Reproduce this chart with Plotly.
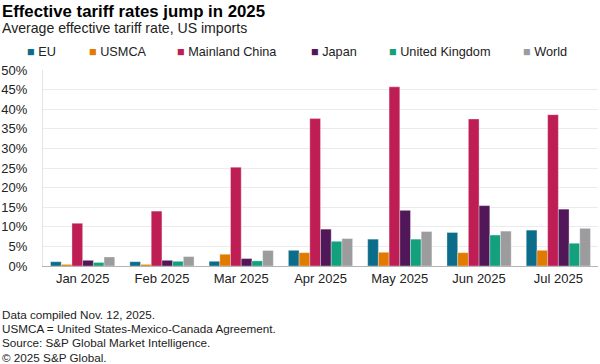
import plotly.graph_objects as go

months = ["Jan 2025", "Feb 2025", "Mar 2025", "Apr 2025", "May 2025", "Jun 2025", "Jul 2025"]
series_names = ["EU", "USMCA", "Mainland China", "Japan", "United Kingdom", "World"]
eu = [1.1, 1.1, 1.2, 4.0, 6.85, 8.55, 9.15]
usmca = [0.4, 0.4, 3.0, 3.4, 3.5, 3.4, 4.0]
china = [10.9, 14.0, 25.2, 37.6, 45.7, 37.5, 38.6]
japan = [1.45, 1.45, 1.9, 9.4, 14.2, 15.4, 14.5]
uk = [0.9, 1.2, 1.3, 6.3, 6.85, 7.9, 5.8]
world = [2.3, 2.4, 3.95, 7.0, 8.8, 8.9, 9.6]
y_ticks = [0, 5, 10, 15, 20, 25, 30, 35, 40, 45, 50]

title = "Effective tariff rates jump in 2025"
subtitle = "Average effective tariff rate, US imports"
footnotes = [
    "Data compiled Nov. 12, 2025.",
    "USMCA = United States-Mexico-Canada Agreement.",
    "Source: S&P Global Market Intelligence.",
    "\u00a9 2025 S&P Global.",
]

colors = ["#0b6d8a", "#e07b00", "#be1e53", "#521758", "#13a07c", "#9c9c9f"]
values = [eu, usmca, china, japan, uk, world]

W, H = 600, 364
L, R, T, B = 43, 2, 70, 98
pw, ph = W - L - R, H - T - B


def px_x(x):
    return (x - L) / pw


def px_y(y):
    return (H - B - y) / ph


FONT = "Liberation Sans, Arial, sans-serif"

fig = go.Figure()
for name, vals, col in zip(series_names, values, colors):
    fig.add_trace(go.Bar(
        x=months, y=vals, name=name, showlegend=False,
        marker=dict(color=col, line=dict(color="rgba(255,255,255,0.55)", width=0.6)),
    ))

# legend entries (one legend each so they can be positioned like the original)
marker_starts = [28, 90, 178, 312, 390, 524]
layout_legends = {}
for i, (name, col, ms) in enumerate(zip(series_names, colors, marker_starts)):
    key = "legend" if i == 0 else f"legend{i + 1}"
    fig.add_trace(go.Scatter(
        x=[None], y=[None], mode="markers", legend=key, showlegend=True,
        name=f'<span style="color:{col}">\u25a0</span> {name}',
        marker=dict(symbol="square", size=1, color="rgba(0,0,0,0)"),
    ))
    layout_legends[key] = dict(
        x=px_x(ms - 41), xanchor="left", y=px_y(51.5), yanchor="middle",
        orientation="h", bgcolor="rgba(0,0,0,0)", borderwidth=0,
        font=dict(family=FONT, size=12.7, color="#222222"),
        itemwidth=30,
    )

annotations = [
    dict(text="<b>" + title + "</b>", x=px_x(0), y=px_y(11.5), xref="paper", yref="paper",
         xanchor="left", yanchor="middle", showarrow=False,
         font=dict(family=FONT, size=16.8, color="#000000")),
    dict(text=subtitle, x=px_x(0), y=px_y(27.5), xref="paper", yref="paper",
         xanchor="left", yanchor="middle", showarrow=False,
         font=dict(family=FONT, size=14.1, color="#222222")),
]
for i, line in enumerate(footnotes):
    annotations.append(dict(
        text=line, x=px_x(0), y=px_y(314.5 + i * 14.2), xref="paper", yref="paper",
        xanchor="left", yanchor="middle", showarrow=False,
        font=dict(family=FONT, size=11.7, color="#222222")))

fig.update_layout(
    width=W, height=H,
    margin=dict(l=L, r=R, t=T, b=B, pad=0, autoexpand=False),
    paper_bgcolor="white", plot_bgcolor="white",
    barmode="group", bargap=0.19, bargroupgap=0,
    annotations=annotations,
    font=dict(family=FONT, color="#222222"),
    **layout_legends,
)
fig.update_xaxes(
    type="category", categoryorder="array", categoryarray=months,
    showgrid=False, showline=True, linecolor="#b5b5b5", linewidth=1,
    ticks="", tickfont=dict(family=FONT, size=13, color="#222222"),
    fixedrange=True,
)
fig.update_yaxes(
    range=[0, 50], tickvals=y_ticks, ticktext=[f"{v}%" for v in y_ticks],
    showgrid=True, gridcolor="#ebebeb", gridwidth=1, zeroline=False,
    showline=True, linecolor="#e3e3e3", linewidth=1,
    ticks="", ticklabelstandoff=12,
    tickfont=dict(family=FONT, size=13, color="#222222"),
    fixedrange=True,
)

fig.write_html(
    "out.html",
    config={"displayModeBar": False},
    post_script="document.body.style.margin='0';document.body.style.overflow='hidden';",
)
